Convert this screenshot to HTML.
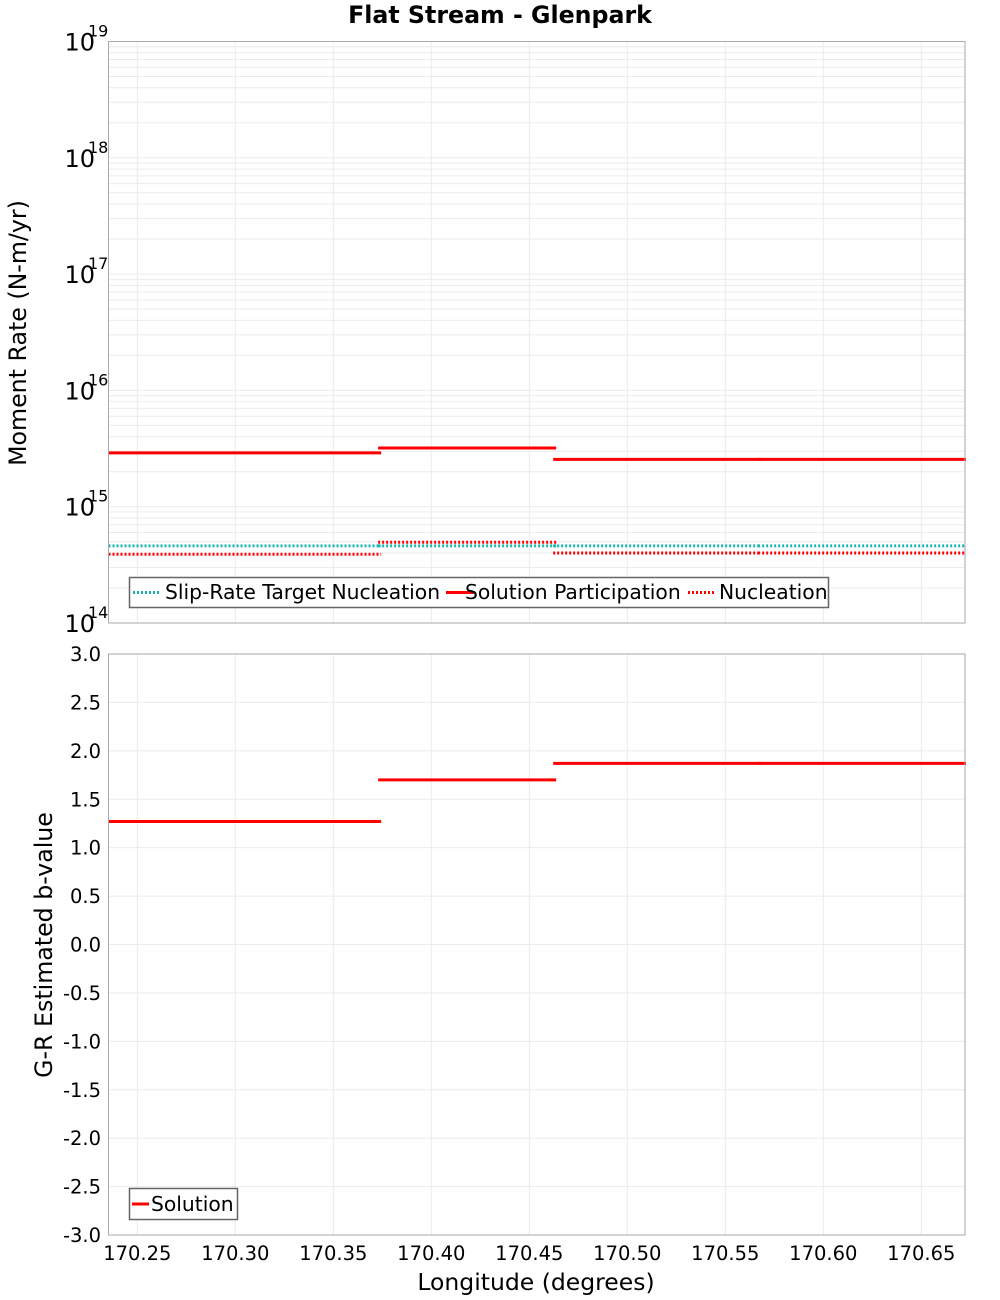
<!DOCTYPE html>
<html><head><meta charset="utf-8"><style>
body{margin:0;background:#fff;}
svg{display:block;font-family:"DejaVu Sans","Liberation Sans",sans-serif;}
</style></head><body>
<svg id="c" width="1000" height="1300" xmlns="http://www.w3.org/2000/svg">
<text x="500" y="23" text-anchor="middle" font-size="23.7" font-weight="bold">Flat Stream - Glenpark</text>
<text transform="translate(26,333) rotate(-90)" text-anchor="middle" font-size="23.7">Moment Rate (N-m/yr)</text>
<text transform="translate(52,945) rotate(-90)" text-anchor="middle" font-size="23.7">G-R Estimated b-value</text>
<text x="536" y="1290" text-anchor="middle" font-size="23.5">Longitude (degrees)</text>
<g id="g"></g>
</svg>
<script>
const segStarts=[170.2353,170.3739,170.4632,170.5678];
const segEnds=[170.3739,170.4632,170.5678,170.6723];
const targetNuc=[4.6e14,4.6e14,4.6e14,4.6e14];
const solPart=[2.9e15,3.2e15,2.55e15,2.55e15];
const nucleation=[3.9e14,4.95e14,4.0e14,4.0e14];
const bValues=[1.27,1.70,1.87,1.87];
const xTicks=[170.25,170.30,170.35,170.40,170.45,170.50,170.55,170.60,170.65];
const decades=[14,15,16,17,18,19];
const bTicks=[3.0,2.5,2.0,1.5,1.0,0.5,0.0,-0.5,-1.0,-1.5,-2.0,-2.5,-3.0];

const L=108.5,R=965,T1=41.5,B1=623,T2=654,B2=1235;
const xMin=170.2353,xMax=170.6723;
const X=v=>L+(v-xMin)/(xMax-xMin)*(R-L);
const Y1=v=>B1-(Math.log10(v)-14)/5*(B1-T1);
const Y2=v=>B2-(v+3)/6*(B2-T2);
const g=document.getElementById('g');
const NS='http://www.w3.org/2000/svg';
function mk(tag,at,txt){const e=document.createElementNS(NS,tag);for(const k in at)e.setAttribute(k,at[k]);if(txt!=null)e.textContent=txt;g.appendChild(e);return e;}

let e=mk('rect',{x:L,y:T1,width:R-L,height:B1-T1,fill:'#fff'});


e=mk('rect',{x:L,y:T2,width:R-L,height:B2-T2,fill:'#fff'});



for(let d=14;d<19;d++){for(let m=1;m<10;m++){const y=Y1(m*Math.pow(10,d));
e=mk('line',{x1:L,x2:R,y1:y,y2:y,stroke:'#ebebeb','stroke-width':1});

}}
for(const t of xTicks){
e=mk('line',{x1:X(t),x2:X(t),y1:T1,y2:B1,stroke:'#ebebeb'});


e=mk('line',{x1:X(t),x2:X(t),y1:T2,y2:B2,stroke:'#ebebeb'});


e=mk('text',{x:X(t),y:1260,'text-anchor':'middle','font-size':19.5},t.toFixed(2));

}
for(const t of bTicks){const y=Y2(t);
e=mk('line',{x1:L,x2:R,y1:y,y2:y,stroke:'#ebebeb'});


e=mk('text',{x:101,y:y+7,'text-anchor':'end','font-size':19.5},t.toFixed(1));

}
for(const d of decades){const y=Y1(Math.pow(10,d));
e=mk('text',{x:95,y:y+9,'text-anchor':'end','font-size':24},'10');


e=mk('text',{x:88,y:y-5,'font-size':16},String(d));

}

function seg(vals,Yf,color,dash,name,w){for(let i=0;i<vals.length;i++){
const a={x1:X(segStarts[i])-(i?2:0),x2:X(segEnds[i])+1,y1:Yf(vals[i]),y2:Yf(vals[i]),stroke:color,'stroke-width':w};
if(dash)a['stroke-dasharray']=dash;
e=mk('line',a);

}}
seg(targetNuc,Y1,'#1ab3b3','2 2','target-nucleation-segment',3);
seg(nucleation,Y1,'#ff0000','2 2','nucleation-segment',3);
seg(solPart,Y1,'#ff0000',null,'solution-participation-segment',3);
seg(bValues,Y2,'#ff0000',null,'b-value-segment',3);

e=mk('rect',{x:L,y:T1,width:R-L,height:B1-T1,fill:'none',stroke:'#aaa'});


e=mk('rect',{x:L,y:T2,width:R-L,height:B2-T2,fill:'none',stroke:'#aaa'});



e=mk('rect',{x:129.5,y:577.5,width:699,height:30,fill:'#fff',stroke:'#666','stroke-width':1.5});


const leg=[[133,'#1ab3b3','2 2','Slip-Rate Target Nucleation',165],[446,'#ff0000',null,'Solution Participation',465],[688,'#ff0000','2 2','Nucleation',719]];
for(const [lx,c,d,t,tx] of leg){const a={x1:lx,x2:lx+28,y1:592.5,y2:592.5,stroke:c,'stroke-width':3};if(d)a['stroke-dasharray']=d;
e=mk('line',a);


e=mk('text',{x:tx,y:599,'font-size':20.3},t);

}
e=mk('rect',{x:129.5,y:1188.5,width:108,height:31,fill:'#fff',stroke:'#666','stroke-width':1.5});


e=mk('line',{x1:132,x2:149,y1:1204,y2:1204,stroke:'#ff0000','stroke-width':3});


e=mk('text',{x:151,y:1211,'font-size':20.3},'Solution');


</script>
</body></html>
